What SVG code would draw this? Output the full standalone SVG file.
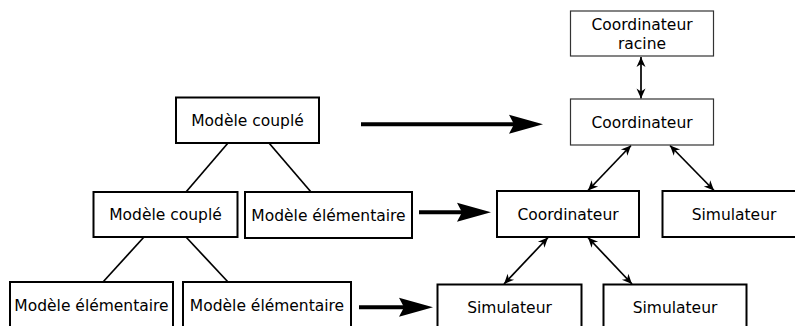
<svg xmlns="http://www.w3.org/2000/svg" width="795" height="326" viewBox="0 0 795 326">
<style>
  .box { fill: #fff; stroke: #000; stroke-width: 2; }
  .thin { fill: #fff; stroke: #333; stroke-width: 1.2; }
  text { font-family: "DejaVu Sans", sans-serif; font-size: 15.5px; fill: #000; text-anchor: middle; }
  .tree { stroke: #000; stroke-width: 1.7; fill: none; }
  .dbl { stroke: #000; stroke-width: 1.7; fill: none; marker-start: url(#sh); marker-end: url(#sh); }
  .big { stroke: #000; stroke-width: 4; fill: none; marker-end: url(#bh); }
</style>
<defs>
  <marker id="sh" viewBox="-11 -6 12 12" refX="0" refY="0" markerWidth="12" markerHeight="12" markerUnits="userSpaceOnUse" orient="auto-start-reverse">
    <path d="M0,0 L-10,-4.5 L-7,0 L-10,4.5 Z" fill="#000"/>
  </marker>
  <marker id="bh" viewBox="-6 -11 36 22" refX="0" refY="0" markerWidth="36" markerHeight="22" markerUnits="userSpaceOnUse" orient="auto">
    <path d="M29,0 L-5,-9.5 L0,0 L-5,9.5 Z" fill="#000"/>
  </marker>
</defs>

<g id="connectors">
  <line class="tree" x1="228" y1="143" x2="186" y2="192"/>
  <line class="tree" x1="269" y1="143" x2="311" y2="192"/>
  <line class="tree" x1="144" y1="237" x2="103" y2="282"/>
  <line class="tree" x1="186" y1="237" x2="228" y2="282"/>
  <line class="big" x1="361" y1="124.3" x2="514" y2="124.3"/>
  <line class="big" x1="419" y1="212.3" x2="462" y2="212.3"/>
  <line class="big" x1="359" y1="307.3" x2="404" y2="307.3"/>
  <line class="dbl" x1="641" y1="57" x2="641" y2="98.5"/>
  <line class="dbl" x1="631" y1="145.5" x2="588" y2="190.5"/>
  <line class="dbl" x1="670" y1="145.5" x2="714" y2="190.5"/>
  <line class="dbl" x1="548" y1="237.5" x2="504" y2="284"/>
  <line class="dbl" x1="588" y1="237.5" x2="632" y2="284"/>
</g>

<g id="mc1"><rect class="box" x="176" y="97.5" width="143" height="45.5"/><text x="247.5" y="126">Modèle couplé</text></g>
<g id="mc2"><rect class="box" x="93.5" y="192" width="144" height="45"/><text x="165.5" y="220">Modèle couplé</text></g>
<g id="me1"><rect class="box" x="245" y="192" width="167" height="46"/><text x="328.5" y="220.5">Modèle élémentaire</text></g>
<g id="me2"><rect class="box" x="10" y="282" width="163" height="46"/><text x="91.5" y="310.5">Modèle élémentaire</text></g>
<g id="me3"><rect class="box" x="183" y="282" width="168" height="46"/><text x="267" y="310.5">Modèle élémentaire</text></g>

<g id="cr"><rect class="thin" x="570.5" y="11" width="143" height="45"/><text x="642" y="29.5">Coordinateur</text><text x="642" y="48.5">racine</text></g>
<g id="c1"><rect class="thin" x="570.5" y="99" width="143" height="46"/><text x="642" y="127.5">Coordinateur</text></g>
<g id="c2"><rect class="box" x="497" y="191" width="142" height="46"/><text x="568" y="219.5">Coordinateur</text></g>
<g id="s1"><rect class="box" x="662.5" y="191" width="143" height="46"/><text x="734" y="219.5">Simulateur</text></g>
<g id="s2"><rect class="box" x="437.5" y="284.5" width="144" height="45"/><text x="509.5" y="313">Simulateur</text></g>
<g id="s3"><rect class="box" x="603.5" y="284.5" width="143" height="45"/><text x="675" y="313">Simulateur</text></g>
</svg>
